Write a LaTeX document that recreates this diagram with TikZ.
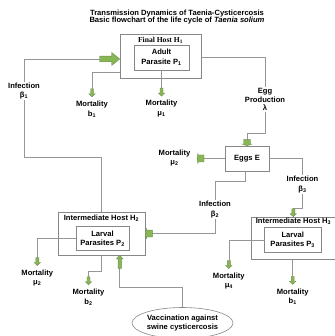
\documentclass[tikz,border=0pt]{standalone}
\usepackage{fontspec}
\setmainfont{Liberation Sans}
\newfontfamily\hostfont{Liberation Serif}
\usepackage{tikz}
\usetikzlibrary{
  arrows.meta,
  positioning,
  shapes.geometric
}
\definecolor{tsgreen}{RGB}{135,182,82}
\definecolor{tsedge}{RGB}{110,140,85}
\definecolor{tsline}{RGB}{150,150,150}
\definecolor{tsbox}{RGB}{135,135,135}

%% green block arrow: tip, angle, length, half shaft, half head, head length
\newcommand{\garrow}[6]{%
  \draw[tsedge, fill=tsgreen, line width=0.4pt, shift={#1}, rotate=#2]
    (0,0) -- (-#6,#5) -- (-#6,#4) -- (-#3,#4) -- (-#3,-#4)
    -- (-#6,-#4) -- (-#6,-#5) -- cycle;}

\begin{document}
\begin{tikzpicture}[x=1pt, y=-1pt,
  lbl/.style={font=\fontsize{7.6}{9.5}\selectfont\bfseries, align=center, inner sep=1pt},
  hostbox/.style={draw=tsbox, line width=0.6pt, fill=white},
  parbox/.style={draw=tsbox, line width=0.6pt, font=\fontsize{7.6}{9.5}\selectfont\bfseries, align=center, inner sep=1pt},
  link/.style={draw=tsline, line width=0.5pt}]

  \useasboundingbox (0,0) rectangle (334,336);

  %% Title
  \node[font=\fontsize{7.6}{7.8}\selectfont\bfseries, align=center]
    (title) at (177,17) {Transmission Dynamics of Taenia-Cysticercosis\\
    Basic flowchart of the life cycle of \textit{Taenia solium}};

  %% Final host
  \node[hostbox, minimum width=81, minimum height=44] (h1) at (160.5,56) {};
  \node[font=\hostfont\fontsize{7.6}{9}\selectfont\bfseries] (h1lab) at (160.5,40)
    {Final Host H\textsubscript{1}};
  \node[parbox, minimum width=55, minimum height=25] (p1) at (161.5,57.5)
    {Adult\\Parasite P\textsubscript{1}};

  %% Eggs
  \node[parbox, minimum width=44, minimum height=25] (eggs) at (247,158.5) {Eggs E};

  %% Intermediate host H2
  \node[hostbox, minimum width=87, minimum height=43] (h2) at (101.5,233.5) {};
  \node[lbl] (h2lab) at (101.5,218.5) {Intermediate Host H\textsubscript{2}};
  \node[parbox, minimum width=53, minimum height=24] (p2) at (102.5,238.7)
    {Larval\\Parasites P\textsubscript{2}};

  %% Intermediate host H3 (runs off the right edge)
  \node[hostbox, minimum width=130, minimum height=42.5, anchor=north west]
    (h3) at (251,216.7) {};
  \node[lbl] (h3lab) at (293.5,221.5) {Intermediate Host H\textsubscript{3}};
  \node[parbox, minimum width=57, minimum height=25] (p3) at (292.7,239.8)
    {Larval\\Parasites P\textsubscript{3}};

  %% Vaccination
  \node[ellipse, draw=tsbox, line width=0.6pt, minimum width=100, minimum height=31,
    font=\fontsize{7.6}{9}\selectfont\bfseries, align=center, inner sep=0pt]
    (vacc) at (182.5,323) {Vaccination against\\swine cysticercosis};

  %% Rate labels
  \node[lbl] (inf1) at (24,91) {Infection\\β\textsubscript{1}};
  \node[lbl] (mb1) at (92,109) {Mortality\\b\textsubscript{1}};
  \node[lbl] (mmu1) at (161.5,108.5) {Mortality\\μ\textsubscript{1}};
  \node[lbl, font=\fontsize{7.6}{8.5}\selectfont\bfseries]
    (egg) at (265,99.5) {Egg\\Production\\λ};
  \node[lbl] (mmu2e) at (174.5,158) {Mortality\\μ\textsubscript{2}};
  \node[lbl] (inf3) at (302.5,184.5) {Infection\\β\textsubscript{3}};
  \node[lbl] (inf2) at (215,209.5) {Infection\\β\textsubscript{2}};
  \node[lbl] (mmu2) at (37.3,278) {Mortality\\μ\textsubscript{2}};
  \node[lbl] (mb2) at (88.5,297) {Mortality\\b\textsubscript{2}};
  \node[lbl] (mmu4) at (228.8,281) {Mortality\\μ\textsubscript{4}};
  \node[lbl] (mb1r) at (292.7,296.5) {Mortality\\b\textsubscript{1}};

  %% Infection beta1: H2 -> final host
  \coordinate (a1tip) at ([yshift=-3pt]h1.west);
  \draw[link] ([xshift=-20pt]a1tip) -| (inf1.north);
  \draw[link] (inf1.south) -- (24,157.7) -| (h2.north);
  \garrow{(a1tip)}{0}{20}{2.8}{6.5}{8}

  %% Mortality b1 and mu1 of adults
  \coordinate (m1tip) at ([yshift=3pt]mb1.north);
  \draw[link] ([yshift=-16.7pt]h1.west) -| ([yshift=8pt]m1tip);
  \garrow{(m1tip)}{-90}{8}{1.5}{3.2}{3}
  \coordinate (m2tip) at ([yshift=3pt]mmu1.north);
  \draw[link] (p1.south) -- ([yshift=8pt]m2tip);
  \garrow{(m2tip)}{-90}{8}{1.5}{3.2}{3}

  %% Egg production
  \draw[link] ([yshift=-1.3pt]h1.east) -| (egg.north);
  \draw[link] (egg.south) -- (265,133.3) -| ([yshift=6pt]eggs.north);
  \garrow{(eggs.north)}{-90}{6}{3.5}{4.5}{1.5}

  %% Mortality of eggs
  \coordinate (e2tip) at (197,158.5);
  \draw[link] (eggs.west) -- ([xshift=7pt]e2tip);
  \garrow{(e2tip)}{180}{7}{3.5}{5.5}{1}

  %% Infection beta3
  \coordinate (i3tip) at ([xshift=42.3pt]h3.north west);
  \draw[link] (eggs.east) -| (inf3.north);
  \draw[link] (inf3.south) |- ([yshift=8pt]i3tip);
  \garrow{(i3tip)}{-90}{8}{1.5}{3.2}{3}

  %% Infection beta2
  \draw[link] ([xshift=-2pt]eggs.south) -- ++(0,10) -| (inf2.north);
  \draw[link] (inf2.south) |- ([xshift=7pt]h2.east);
  \garrow{(h2.east)}{180}{7}{3.5}{5.5}{1}

  %% Mortality of larvae in H2
  \coordinate (m3tip) at ([yshift=3pt]mmu2.north);
  \draw[link] (p2.west) -| ([yshift=8pt]m3tip);
  \garrow{(m3tip)}{-90}{8}{1.5}{3.2}{3}
  \coordinate (m4tip) at ([yshift=3pt]mb2.north);
  \draw[link] (h2.south) -- ++(0,16) -| ([yshift=8pt]m4tip);
  \garrow{(m4tip)}{-90}{8}{1.5}{3.2}{3}

  %% Vaccination
  \coordinate (vtip) at ([xshift=18.2pt]h2.south);
  \draw[link] (vacc.north) -- ++(0,-19.7) -| ([yshift=-13pt]vtip);
  \garrow{(vtip)}{90}{13}{1.6}{3.2}{3.5}

  %% Mortality of larvae in H3
  \coordinate (m5tip) at ([yshift=3pt]mmu4.north);
  \draw[link] (p3.west) -| ([yshift=8pt]m5tip);
  \garrow{(m5tip)}{-90}{8}{1.5}{3.2}{3}
  \coordinate (m6tip) at ([yshift=3pt]mb1r.north);
  \draw[link] ([xshift=41.7pt]h3.south west) -- ([yshift=8pt]m6tip);
  \garrow{(m6tip)}{-90}{8}{1.5}{3.2}{3}

\end{tikzpicture}
\end{document}
